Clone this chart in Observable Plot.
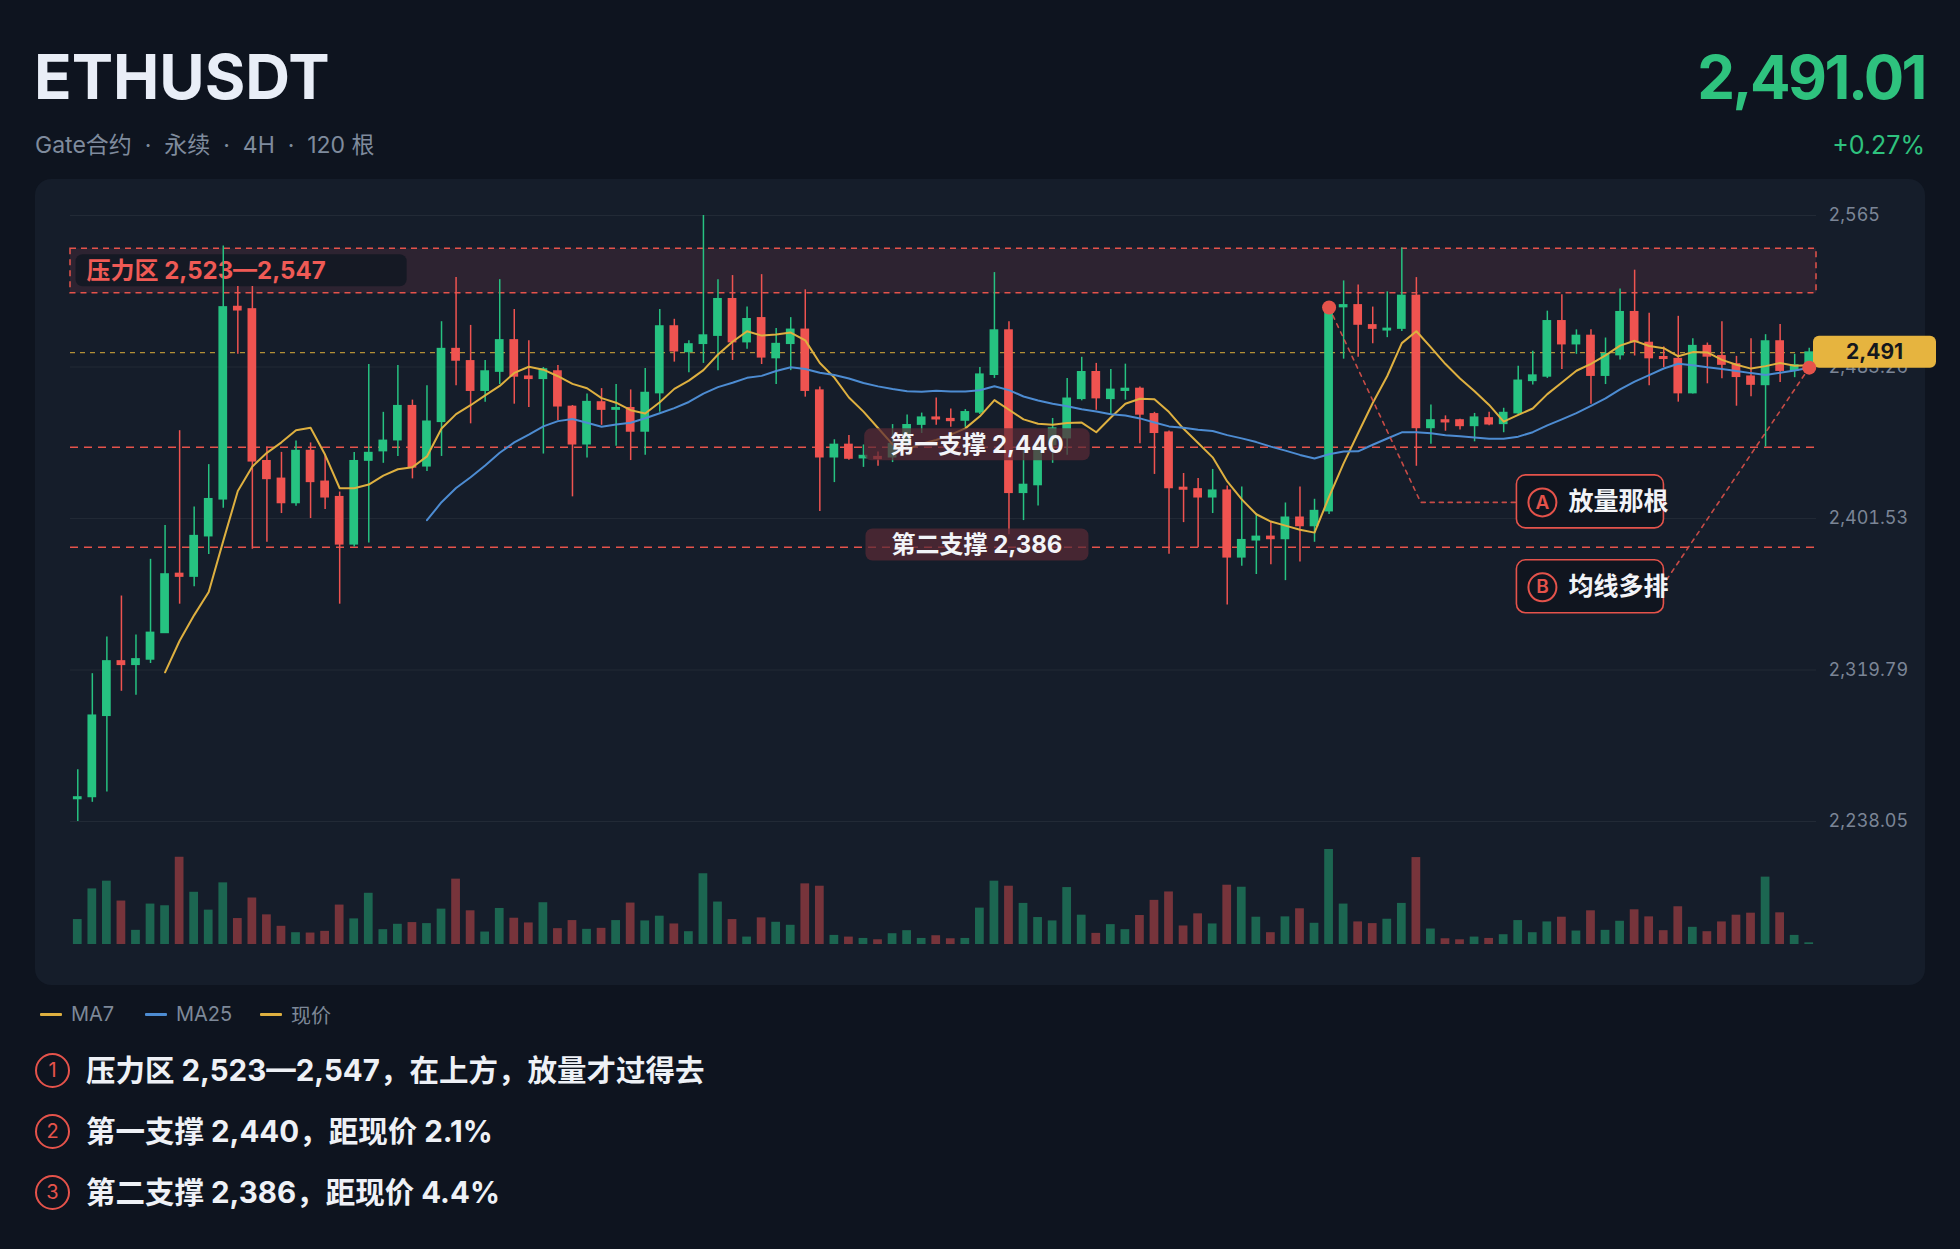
<!DOCTYPE html>
<html>
<head>
<meta charset="utf-8">
<script src="https://cdn.jsdelivr.net/npm/d3@7"></script>
<script src="https://cdn.jsdelivr.net/npm/@observablehq/plot@0.6"></script>
<style>
html,body{margin:0;padding:0;background:#0e141f;}
body{width:1960px;height:1249px;position:relative;overflow:hidden;font-family:Inter,"Noto Sans CJK SC",sans-serif;}
.abs{position:absolute;white-space:pre;}
#title{left:34px;top:37px;font-size:62px;font-weight:700;color:#e9eef7;line-height:80px;}
#sub{left:35px;top:128px;font-size:23px;color:#7f8b9d;line-height:34px;}
#price{right:35px;top:37px;font-size:60px;font-weight:700;color:#2ec27e;line-height:80px;letter-spacing:-2.5px;}
#chg{right:35px;top:128px;font-size:25px;color:#2ec27e;line-height:34px;}
#panel{left:35px;top:179px;width:1890px;height:806px;border-radius:16px;background:#151d2a;}
#candles{left:35px;top:179px;}
#vol{left:35px;top:840px;}
.li{display:flex;align-items:center;font-size:20px;color:#7d8898;height:24px;top:1002px;}
.li i{display:inline-block;width:22px;height:3px;margin-right:9px;border-radius:1px;}
.nc{left:35px;width:31px;height:31px;border:2px solid #e5534b;border-radius:50%;color:#e5534b;font-size:20px;display:flex;align-items:center;justify-content:center;}
.nt{left:86px;font-size:29.5px;font-weight:700;color:#eef1f6;line-height:40px;}
</style>
</head>
<body>
<div id="title" class="abs"></div>
<div id="sub" class="abs"></div>
<div id="price" class="abs"></div>
<div id="chg" class="abs"></div>
<div id="panel" class="abs"></div>
<div id="candles" class="abs"></div>
<div id="vol" class="abs"></div>
<script>
// ---------------- data ----------------
const symbol = "ETHUSDT";
const subtitle = "Gate合约  ·  永续  ·  4H  ·  120 根";
const opens = [2250.2,2251.3,2295.1,2324.4,2322.6,2325.5,2339.8,2371.6,2370.2,2392.0,
2411.9,2515.6,2514.3,2432.4,2422.9,2409.9,2437.9,2421.3,2413.0,2387.6,
2432.8,2437.9,2443.8,2462.1,2429.7,2453.7,2492.9,2486.3,2470.5,2480.8,
2497.6,2478.0,2476.9,2480.8,2461.7,2441.6,2464.1,2460.3,2461.0,2448.5,
2469.2,2505.1,2491.4,2495.8,2500.2,2519.8,2496.7,2509.5,2488.1,2495.8,
2503.3,2470.5,2434.6,2441.2,2434.1,2434.6,2434.6,2441.6,2452.2,2455.9,
2455.1,2454.4,2458.8,2479.1,2502.9,2415.4,2419.6,2441.2,2444.9,2466.1,
2480.4,2466.1,2470.5,2471.4,2457.7,2447.8,2418.0,2417.2,2413.0,2416.5,
2380.6,2389.8,2391.6,2390.5,2401.9,2397.5,2405.5,2515.6,2516.5,2505.7,
2503.1,2504.0,2521.6,2450.4,2454.4,2454.4,2451.5,2455.5,2452.6,2458.4,
2475.8,2478.2,2507.9,2495.6,2500.0,2478.6,2489.7,2512.8,2496.2,2488.5,
2487.5,2469.2,2494.5,2489.0,2484.6,2478.0,2473.6,2497.0,2481.3,2484.1];
const highs = [2266.0,2317.8,2337.6,2359.7,2338.7,2379.5,2397.8,2448.9,2407.7,2430.6,
2548.5,2526.7,2526.7,2440.1,2437.2,2443.4,2442.3,2435.7,2415.8,2437.2,
2484.6,2458.8,2484.1,2465.4,2473.1,2507.7,2531.5,2505.7,2486.8,2530.4,
2514.3,2497.4,2483.0,2484.1,2462.5,2468.7,2471.6,2473.8,2470.9,2482.4,
2514.3,2509.0,2497.4,2565.0,2530.4,2532.6,2515.6,2533.1,2504.0,2509.9,
2524.9,2472.5,2444.0,2446.3,2441.2,2437.4,2452.2,2457.3,2458.4,2466.5,
2460.6,2460.3,2483.0,2534.2,2507.7,2439.0,2443.4,2455.5,2477.1,2488.5,
2485.2,2481.9,2484.8,2472.5,2458.8,2448.7,2425.8,2423.1,2428.0,2419.1,
2418.5,2404.2,2399.3,2409.9,2418.5,2411.9,2516.5,2529.7,2527.5,2515.6,
2523.8,2547.4,2531.5,2462.8,2456.9,2455.1,2458.2,2458.8,2461.0,2483.7,
2491.8,2513.4,2522.3,2503.3,2503.3,2498.9,2525.3,2535.5,2512.3,2494.1,
2510.6,2498.5,2496.2,2507.7,2489.0,2498.5,2500.7,2506.2,2490.1,2493.4];
const lows = [2238.05,2248.4,2253.9,2308.3,2306.1,2323.3,2339.8,2355.3,2364.7,2382.1,
2407.0,2490.1,2385.0,2388.7,2404.2,2408.1,2401.5,2406.4,2355.3,2386.1,
2388.3,2431.3,2435.0,2422.9,2426.9,2435.0,2473.1,2452.6,2464.3,2473.8,
2463.2,2461.4,2436.3,2454.4,2413.2,2434.1,2451.8,2440.5,2432.8,2435.7,
2458.8,2485.9,2480.2,2485.2,2481.3,2486.8,2492.9,2484.6,2473.8,2481.3,
2467.0,2405.3,2420.9,2433.0,2429.1,2429.7,2431.7,2439.0,2447.4,2451.8,
2450.7,2450.7,2457.7,2477.1,2392.7,2400.4,2408.3,2431.3,2435.7,2465.0,
2459.9,2457.7,2465.4,2441.8,2425.3,2382.3,2399.3,2385.7,2404.2,2354.8,
2375.7,2371.3,2376.6,2368.0,2378.0,2388.7,2403.7,2487.5,2488.5,2495.8,
2499.1,2502.4,2429.7,2441.6,2448.6,2449.3,2442.9,2451.5,2447.8,2457.7,
2473.6,2477.1,2481.9,2490.1,2463.2,2473.8,2487.0,2489.2,2473.1,2483.0,
2464.3,2468.7,2474.2,2476.9,2462.1,2467.2,2440.1,2474.9,2477.5,2483.0];
const closes = [2251.0,2295.1,2324.4,2322.6,2325.5,2339.8,2371.3,2370.2,2392.0,2411.9,
2515.4,2513.9,2432.4,2422.9,2409.9,2437.9,2421.3,2413.0,2387.6,2432.4,
2436.8,2443.4,2462.1,2429.1,2453.7,2492.9,2486.8,2470.5,2480.8,2497.6,
2478.2,2476.9,2481.9,2462.1,2441.6,2464.3,2460.3,2461.0,2448.5,2469.2,
2505.1,2491.8,2495.4,2500.2,2519.8,2496.7,2509.0,2488.5,2495.6,2503.3,
2470.5,2434.6,2441.2,2433.9,2435.2,2433.7,2441.6,2451.8,2455.9,2455.1,
2454.2,2458.8,2479.1,2502.9,2415.4,2419.6,2438.5,2450.0,2466.1,2480.4,
2466.5,2470.9,2471.4,2457.7,2447.8,2418.0,2417.2,2413.0,2416.5,2380.6,
2389.8,2391.6,2390.5,2401.9,2397.5,2405.5,2515.4,2516.5,2506.2,2504.0,
2503.8,2521.6,2450.4,2454.4,2453.5,2451.5,2455.9,2452.4,2458.4,2475.8,
2478.6,2507.9,2495.6,2500.0,2478.6,2490.1,2512.8,2496.7,2488.1,2487.7,
2469.2,2494.5,2489.0,2484.6,2478.0,2473.8,2497.0,2481.3,2484.1,2491.01];
const volumes = [74,165,188,129,42,120,115,259,155,102,
183,77,138,88,54,35,34,39,117,76,
152,44,60,65,62,105,194,100,37,107,
78,64,124,47,71,45,48,71,123,70,
84,61,38,210,126,74,22,79,66,57,
180,173,27,22,18,14,32,41,18,26,
17,18,108,188,173,122,80,70,169,87,
33,59,44,86,131,156,55,91,61,176,
170,81,35,82,106,63,282,120,67,62,
75,122,258,46,17,14,22,18,29,71,
35,67,81,40,100,42,69,103,82,41,
112,51,38,67,87,93,200,94,27,5];
const yTicks = [2238.05, 2319.79, 2401.53, 2483.26, 2565];
const yDomain = [2238.05, 2565];
const pressureZone = [2523, 2547];
const supports = [2440, 2386];
const supportNames = ["第一支撑", "第二支撑"];
const lastPrice = 2491.01;
const changePct = 0.27;
const supportLabelX = 61.8;
const notes = [
  {key: "A", label: "放量那根", tx: 102.45, y: 2410.2},
  {key: "B", label: "均线多排", tx: 102.45, y: 2364.4}
];
const anchorA = 86;
const leaderACorner = [[92.3, 2410.2], [98.9, 2410.2]];
const leaderBEnd = [109.2, 2368.5];
const legendItems = [["MA7", "#deb040", 40], ["MA25", "#4d8cd2", 145], ["现价", "#deb040", 260]];
const noteLines = [
  "压力区 2,523—2,547，在上方，放量才过得去",
  "第一支撑 2,440，距现价 2.1%",
  "第二支撑 2,386，距现价 4.4%"
];

// ---------------- build ----------------
const UP = "#26c281", DOWN = "#ef5350", RED = "#e5534b", MA7C = "#deb040", MA25C = "#4d8cd2";
const FONT = "Inter, 'Noto Sans CJK SC', sans-serif";
const bars = d3.range(opens.length).map(i => ({
  i, open: opens[i], high: highs[i], low: lows[i], close: closes[i], volume: volumes[i],
  up: closes[i] >= opens[i]
}));
const ma25Last = d3.mean(closes.slice(-25));
const leaderA = [[anchorA, closes[anchorA]], ...leaderACorner];
const leaderB = [leaderBEnd, [bars.length - 1, ma25Last]];
const fmt = d3.format(",");

document.getElementById("title").textContent = symbol;
document.getElementById("sub").textContent = subtitle;
document.getElementById("price").textContent = d3.format(",.2f")(lastPrice);
document.getElementById("chg").textContent = (changePct >= 0 ? "+" : "") + changePct.toFixed(2) + "%";

const pressureLabel = `压力区 ${fmt(pressureZone[0])}—${fmt(pressureZone[1])}`;
const supportLabels = supports.map((s, k) => ({y: s, text: `${supportNames[k]} ${fmt(s)}`}));
const tagText = d3.format(",.0f")(lastPrice);

const main = Plot.plot({
  width: 1890, height: 680,
  marginLeft: 35, marginRight: 109, marginTop: 36, marginBottom: 38,
  x: {domain: [-0.5, bars.length - 0.5], axis: null},
  y: {domain: yDomain, ticks: yTicks, tickFormat: d => fmt(d), axis: "right", tickSize: 0, tickPadding: 12, label: null},
  color: {type: "identity"},
  style: {background: "transparent", color: "#7b8596", fontFamily: FONT, fontSize: "18px", overflow: "visible"},
  marks: [
    Plot.ruleY(yTicks, {stroke: "#ffffff", strokeOpacity: 0.06}),
    Plot.rect([pressureZone], {x1: -0.5, x2: bars.length - 0.5, y1: d => d[0], y2: d => d[1],
      fill: "#d04a68", fillOpacity: 0.13, stroke: RED, strokeDasharray: "6,5", strokeWidth: 1.5}),
    Plot.ruleY(supports, {stroke: RED, strokeDasharray: "8,6", strokeWidth: 1.6}),
    Plot.ruleY([lastPrice], {stroke: "#cfa43a", strokeDasharray: "5,5", strokeWidth: 1.3, strokeOpacity: 0.85}),
    Plot.text([pressureLabel], {x: 0.6, y: (pressureZone[0] + pressureZone[1]) / 2, text: d => d,
      textAnchor: "start", fill: "#ef5a55", fontSize: 24, fontWeight: 700}),
    Plot.ruleX(bars, {x: "i", y1: "low", y2: "high", stroke: d => d.up ? UP : DOWN, strokeWidth: 1.5}),
    Plot.rect(bars, {x1: d => d.i - 0.3, x2: d => d.i + 0.3,
      y1: d => Math.min(d.open, d.close), y2: d => Math.max(d.open, d.close),
      fill: d => d.up ? UP : DOWN, insetTop: -0.8, insetBottom: -0.8}),
    Plot.lineY(bars, Plot.windowY({k: 7, anchor: "end", strict: true}, {x: "i", y: "close", stroke: MA7C, strokeWidth: 2})),
    Plot.lineY(bars, Plot.windowY({k: 25, anchor: "end", strict: true}, {x: "i", y: "close", stroke: MA25C, strokeWidth: 2})),
    Plot.line(leaderA, {x: d => d[0], y: d => d[1], stroke: RED, strokeDasharray: "4,5", strokeWidth: 1.6, strokeOpacity: 0.85}),
    Plot.line(leaderB, {x: d => d[0], y: d => d[1], stroke: RED, strokeDasharray: "4,5", strokeWidth: 1.6, strokeOpacity: 0.85}),
    Plot.text(supportLabels, {x: supportLabelX, y: "y", text: "text", fill: "#f2f4f8", fontSize: 24, fontWeight: 700, dy: -2}),
    Plot.text(notes, {x: "tx", y: "y", text: "label", textAnchor: "start", fill: "#f2f4f8", fontSize: 25, fontWeight: 700}),
    Plot.text([lastPrice], {x: bars.length - 0.5, y: d => d, dx: 58, text: () => tagText, fill: "#15171d", fontSize: 21, fontWeight: 700}),
    Plot.dot(notes, {x: "tx", y: "y", dx: -26, r: 14, stroke: RED, strokeWidth: 2, fill: "none"}),
    Plot.text(notes, {x: "tx", y: "y", dx: -26, text: "key", fill: RED, fontSize: 19, fontWeight: 600}),
    Plot.dot([[anchorA, closes[anchorA]], [bars.length - 1, ma25Last]], {x: d => d[0], y: d => d[1], r: 7, fill: RED})
  ]
});
document.getElementById("candles").appendChild(main);

const vol = Plot.plot({
  width: 1890, height: 145,
  marginLeft: 35, marginRight: 109, marginTop: 9, marginBottom: 41,
  x: {domain: [-0.5, bars.length - 0.5], axis: null},
  y: {domain: [0, d3.max(volumes)], axis: null},
  color: {type: "identity"},
  style: {background: "transparent"},
  marks: [
    Plot.rect(bars, {x1: d => d.i - 0.3, x2: d => d.i + 0.3, y1: 0, y2: "volume",
      fill: d => d.up ? UP : DOWN, fillOpacity: 0.45})
  ]
});
document.getElementById("vol").appendChild(vol);

// label backgrounds sized from the rendered text
const ns = "http://www.w3.org/2000/svg";
function addBoxes(svg, specs) {
  svg.querySelectorAll("text").forEach(t => {
    const s = specs.find(s => s.text === t.textContent);
    if (!s) return;
    const b = t.getBBox();
    const w = s.w != null ? s.w : b.width + s.padL + s.padR;
    const x = s.w != null ? b.x + b.width / 2 - s.w / 2 : b.x - s.padL;
    const cy = b.y + b.height / 2 + (s.dy || 0);
    const r = document.createElementNS(ns, "rect");
    r.setAttribute("x", x); r.setAttribute("y", cy - s.h / 2);
    r.setAttribute("width", w); r.setAttribute("height", s.h);
    r.setAttribute("rx", s.rx); r.setAttribute("fill", s.fill);
    if (s.fillOpacity != null) r.setAttribute("fill-opacity", s.fillOpacity);
    if (s.stroke) { r.setAttribute("stroke", s.stroke); r.setAttribute("stroke-width", s.strokeWidth || 1.5); }
    else r.setAttribute("stroke", "none");
    const tr = t.getAttribute("transform");
    if (tr) r.setAttribute("transform", tr);
    t.parentNode.insertBefore(r, t);
  });
}
addBoxes(main, [
  {text: pressureLabel, padL: 11, padR: 81, h: 32, rx: 7, fill: "#121722", fillOpacity: 0.85},
  ...supportLabels.map(l => ({text: l.text, padL: 26, padR: 26, h: 32, rx: 7, fill: "#5a2a36", fillOpacity: 0.72})),
  ...notes.map(n => ({text: n.label, padL: 52, padR: -5, h: 53, rx: 9, fill: "#10151f", stroke: RED, strokeWidth: 1.6})),
  {text: tagText, w: 123, h: 32, rx: 6, fill: "#e6b43f"}
]);

// legend & notes
legendItems.forEach(([name, color, x]) => {
  const d = document.createElement("div");
  d.className = "abs li"; d.style.left = x + "px";
  d.innerHTML = `<i style="background:${color}"></i>${name}`;
  document.body.appendChild(d);
});
noteLines.forEach((txt, k) => {
  const cy = 1070 + k * 61;
  const c = document.createElement("div");
  c.className = "abs nc"; c.style.top = (cy - 17.5) + "px"; c.textContent = k + 1;
  document.body.appendChild(c);
  const t = document.createElement("div");
  t.className = "abs nt"; t.style.top = (cy - 20) + "px"; t.textContent = txt;
  document.body.appendChild(t);
});
</script>
</body>
</html>
